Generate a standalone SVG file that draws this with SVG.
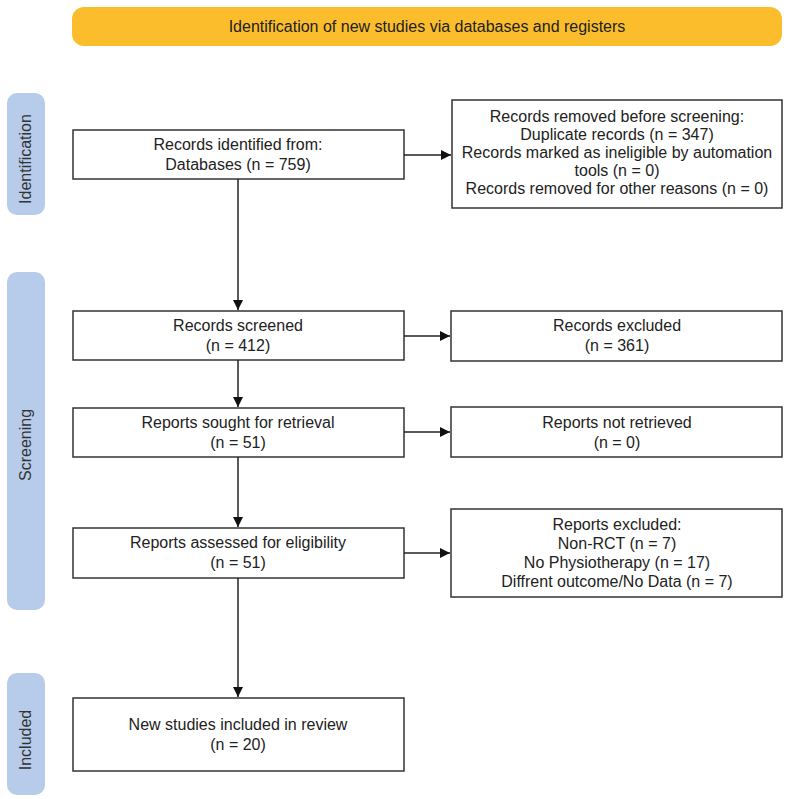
<svg xmlns="http://www.w3.org/2000/svg" width="790" height="799" viewBox="0 0 790 799">
<style>
.box{fill:#ffffff;stroke:#333333;stroke-width:1.5}
.pill{fill:#b7cbea}
.t{font-family:"Liberation Sans",Arial,sans-serif;font-size:16px;fill:#222222;text-anchor:middle}
.side{font-family:"Liberation Sans",Arial,sans-serif;font-size:16px;fill:#333333;text-anchor:middle}
.conn{stroke:#222222;stroke-width:1.5;fill:none;marker-end:url(#ah)}
</style>
<defs>
<marker id="ah" viewBox="0 0 10 10" refX="10" refY="5" markerWidth="10" markerHeight="10" markerUnits="userSpaceOnUse" orient="auto">
<path d="M0,0 L10,5 L0,10 Z" fill="#111111"/>
</marker>
</defs>
<rect width="790" height="799" fill="#ffffff"/>
<g id="banner">
<rect x="72" y="7" width="710" height="39" rx="12" fill="#fbbd2c"/>
<text class="t" x="427" y="32">Identification of new studies via databases and registers</text>
</g>
<g id="phase-identification">
<rect class="pill" x="7" y="93" width="38" height="122" rx="10"/>
<text class="side" transform="translate(31,159) rotate(-90)">Identification</text>
</g>
<g id="phase-screening">
<rect class="pill" x="7" y="272" width="38" height="338" rx="10"/>
<text class="side" transform="translate(31,445) rotate(-90)">Screening</text>
</g>
<g id="phase-included">
<rect class="pill" x="7" y="673" width="38" height="122" rx="10"/>
<text class="side" transform="translate(31,740) rotate(-90)">Included</text>
</g>
<g id="records-identified">
<rect class="box" x="73" y="130" width="331" height="49"/>
<text class="t" x="238" y="150">Records identified from:</text>
<text class="t" x="238" y="170">Databases (n = 759)</text>
</g>
<g id="records-removed">
<rect class="box" x="452" y="100" width="330" height="108"/>
<text class="t" x="617" y="122">Records removed before screening:</text>
<text class="t" x="617" y="140">Duplicate records (n = 347)</text>
<text class="t" x="617" y="158">Records marked as ineligible by automation</text>
<text class="t" x="617" y="176">tools (n = 0)</text>
<text class="t" x="617" y="194">Records removed for other reasons (n = 0)</text>
</g>
<g id="records-screened">
<rect class="box" x="73" y="311" width="331" height="49"/>
<text class="t" x="238" y="331">Records screened</text>
<text class="t" x="238" y="351">(n = 412)</text>
</g>
<g id="records-excluded">
<rect class="box" x="451" y="311" width="331" height="50"/>
<text class="t" x="617" y="331">Records excluded</text>
<text class="t" x="617" y="351">(n = 361)</text>
</g>
<g id="reports-sought">
<rect class="box" x="73" y="408" width="331" height="49"/>
<text class="t" x="238" y="428">Reports sought for retrieval</text>
<text class="t" x="238" y="448">(n = 51)</text>
</g>
<g id="reports-not-retrieved">
<rect class="box" x="451" y="407" width="331" height="50"/>
<text class="t" x="617" y="428">Reports not retrieved</text>
<text class="t" x="617" y="448">(n = 0)</text>
</g>
<g id="reports-assessed">
<rect class="box" x="73" y="528" width="331" height="50"/>
<text class="t" x="238" y="548">Reports assessed for eligibility</text>
<text class="t" x="238" y="568">(n = 51)</text>
</g>
<g id="reports-excluded">
<rect class="box" x="451" y="509" width="331" height="88"/>
<text class="t" x="617" y="530">Reports excluded:</text>
<text class="t" x="617" y="549">Non-RCT (n = 7)</text>
<text class="t" x="617" y="568">No Physiotherapy (n = 17)</text>
<text class="t" x="617" y="587">Diffrent outcome/No Data (n = 7)</text>
</g>
<g id="included-studies">
<rect class="box" x="73" y="698" width="331" height="73"/>
<text class="t" x="238" y="730">New studies included in review</text>
<text class="t" x="238" y="750">(n = 20)</text>
</g>
<g id="connectors">
<line class="conn" x1="404" y1="155" x2="451" y2="155"/>
<line class="conn" x1="238" y1="179" x2="238" y2="310"/>
<line class="conn" x1="404" y1="336" x2="450" y2="336"/>
<line class="conn" x1="238" y1="360" x2="238" y2="407"/>
<line class="conn" x1="404" y1="432" x2="450" y2="432"/>
<line class="conn" x1="238" y1="457" x2="238" y2="527"/>
<line class="conn" x1="404" y1="553" x2="450" y2="553"/>
<line class="conn" x1="238" y1="578" x2="238" y2="697"/>
</g>
</svg>
